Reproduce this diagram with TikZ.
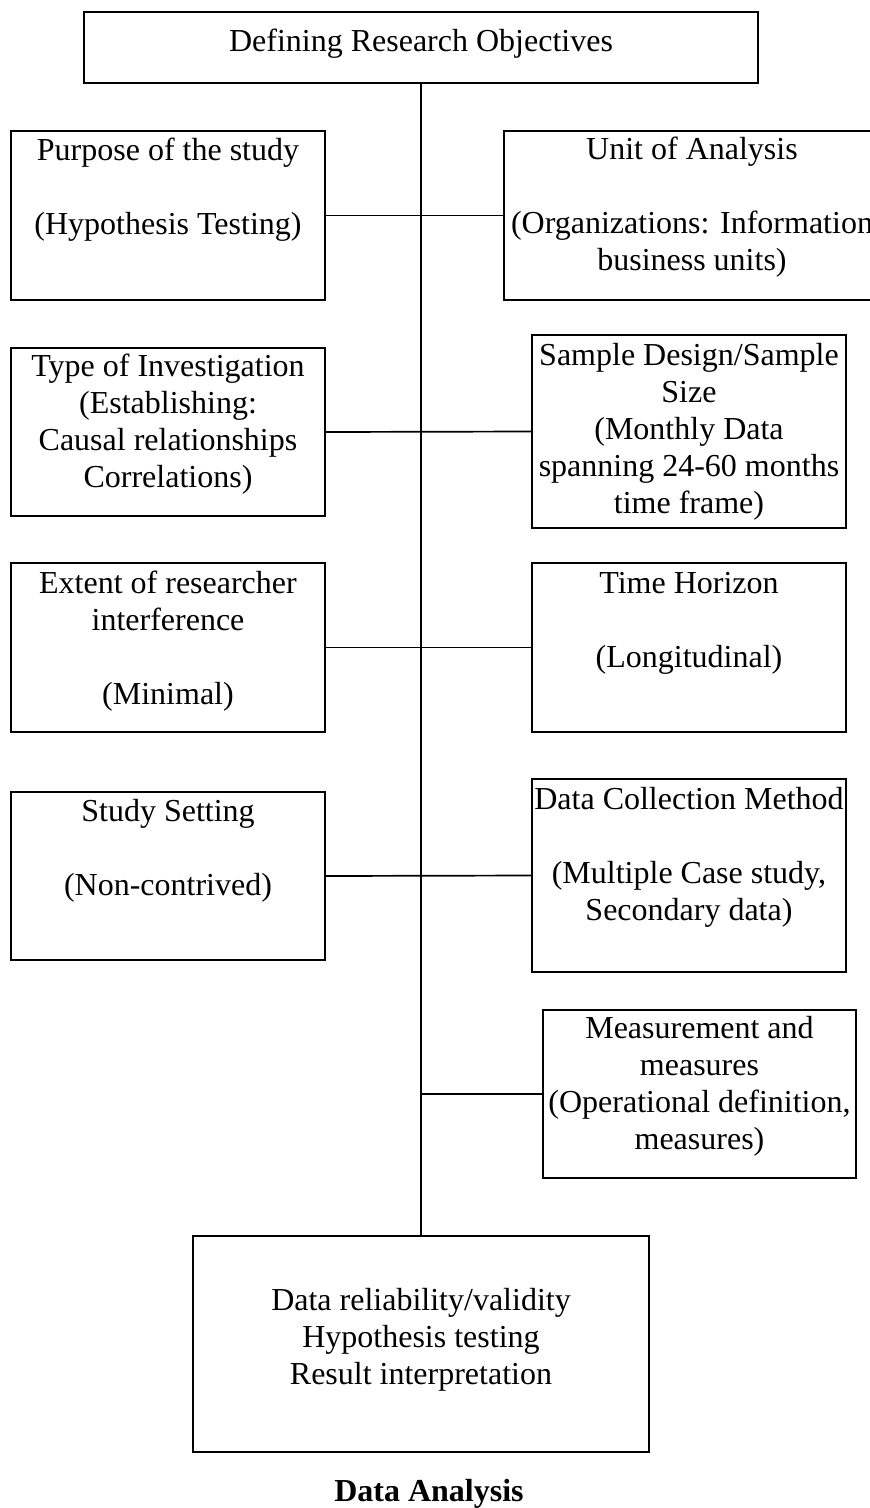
\documentclass[tikz,border=0pt]{standalone}
\usepackage{fontspec}
\setmainfont{Liberation Serif}
\newcommand\boxlines[1]{\parbox[t]{440pt}{\centering #1}}
\begin{document}
\begin{tikzpicture}[x=1pt,y=-1pt,
  box/.style={draw, line width=1.8pt, inner sep=0pt,
    minimum width=314pt, minimum height=169pt},
  lbl/.style={inner sep=0pt, anchor=base,
    font=\fontsize{32pt}{37pt}\selectfont},
  link/.style={line width=1.7pt}]
\useasboundingbox (0,0) rectangle (870,1508);
\clip (0,0) rectangle (870,1508);
\fill[white] (0,0) rectangle (870,1508);

% frames
\node[box, minimum width=674pt, minimum height=71pt] (top) at (421,47.5) {};
\node[box] (purpose) at (168,215.5) {};
\node[box, minimum width=376pt] (unit) at (692,215.5) {};
\node[box, minimum height=168pt] (type) at (168,432) {};
\node[box, minimum height=193pt] (sample) at (689,431.5) {};
\node[box] (extent) at (168,647.5) {};
\node[box] (time) at (689,647.5) {};
\node[box, minimum height=168pt] (study) at (168,876) {};
\node[box, minimum height=193pt] (collect) at (689,875.5) {};
\node[box, minimum width=313pt, minimum height=168pt] (measure) at (699.5,1094) {};
\node[box, minimum width=456pt, minimum height=216pt] (analysis) at (421,1344) {};

% texts
\node[lbl] (top-t) at ([yshift=-40pt]top.north) {Defining Research Objectives};
\node[lbl] (purpose-t) at ([yshift=-30pt]purpose.north)
  {\boxlines{Purpose of the study\\[37pt](Hypothesis Testing)}};
\node[lbl] (unit-t) at ([yshift=-29pt]unit.north)
  {\boxlines{Unit of Analysis\\[37pt](Organizations: Information\\business units)}};
\node[lbl] (type-t) at ([yshift=-29pt]type.north)
  {\boxlines{Type of Investigation\\(Establishing:\\Causal relationships\\Correlations)}};
\node[lbl] (sample-t) at ([yshift=-31pt]sample.north)
  {\boxlines{Sample Design/Sample\\Size\\(Monthly Data\\spanning 24-60 months\\time frame)}};
\node[lbl] (extent-t) at ([yshift=-31pt]extent.north)
  {\boxlines{Extent of researcher\\interference\\[37pt](Minimal)}};
\node[lbl] (time-t) at ([yshift=-31pt]time.north)
  {\boxlines{Time Horizon\\[37pt](Longitudinal)}};
\node[lbl] (study-t) at ([yshift=-30pt]study.north)
  {\boxlines{Study Setting\\[37pt](Non-contrived)}};
\node[lbl] (collect-t) at ([yshift=-31pt]collect.north)
  {\boxlines{Data Collection Method\\[37pt](Multiple Case study,\\Secondary data)}};
\node[lbl] (measure-t) at ([yshift=-29pt]measure.north)
  {\boxlines{Measurement and\\measures\\(Operational definition,\\measures)}};
\node[lbl] (analysis-t) at ([yshift=-75pt]analysis.north)
  {\boxlines{Data reliability/validity\\Hypothesis testing\\Result interpretation}};
\node[lbl, font=\fontsize{32pt}{37pt}\selectfont\bfseries] (caption) at (429,1501) {Data Analysis};

% connectors
\draw[link] (top.south) -- (top.south |- analysis.north);
\draw[link] (purpose.east) -- (unit.west);
\draw[link] (type.east) -- (sample.west);
\draw[link] (extent.east) -- (time.west);
\draw[link] (study.east) -- (collect.west);
\draw[link] (measure.west) -- (measure.west -| top.south);
\end{tikzpicture}
\end{document}
